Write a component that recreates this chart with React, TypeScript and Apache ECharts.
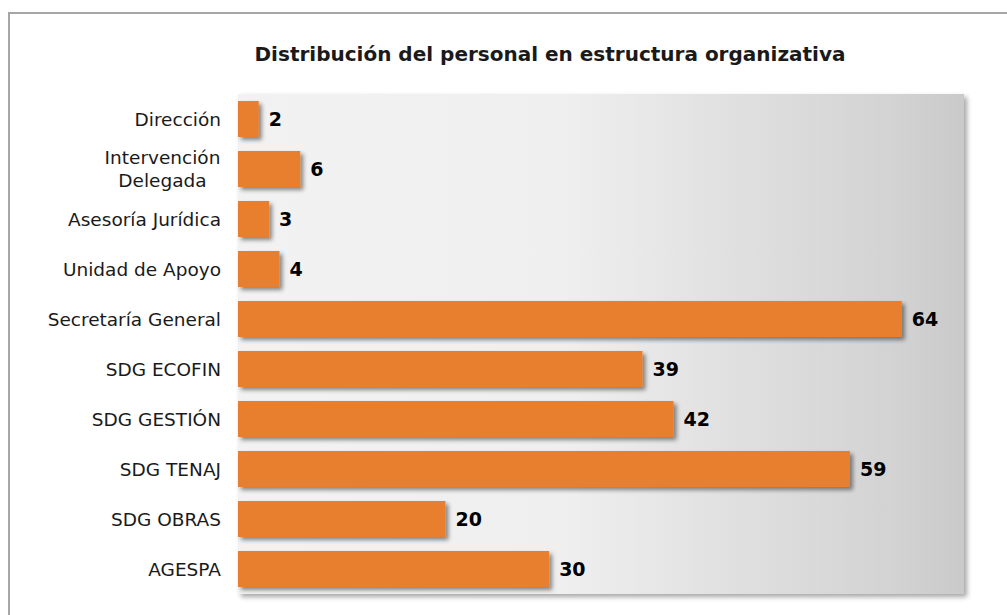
import React, { useEffect, useRef } from "react";
import * as echarts from "echarts";

const categories = [
  "Dirección",
  "Intervención\nDelegada",
  "Asesoría Jurídica",
  "Unidad de Apoyo",
  "Secretaría General",
  "SDG ECOFIN",
  "SDG GESTIÓN",
  "SDG TENAJ",
  "SDG OBRAS",
  "AGESPA",
];
const values = [2, 6, 3, 4, 64, 39, 42, 59, 20, 30];
const titleText = "Distribución del personal en estructura organizativa";
const FONT = "'DejaVu Sans', Verdana, sans-serif";

export default function App() {
  const ref = useRef<HTMLDivElement>(null);
  useEffect(() => {
    const chart = echarts.init(ref.current!, null, { renderer: "svg" });
    chart.setOption({
      animation: false,
      backgroundColor: "#ffffff",
      title: {
        text: titleText,
        left: 545,
        top: 39,
        textAlign: "center",
        textStyle: { fontFamily: FONT, fontSize: 20, fontWeight: "bold", color: "#1a1a1a" },
      },
      graphic: [
        {
          type: "rect",
          shape: { x: 9, y: 13, width: 1020, height: 640 },
          style: { fill: "none", stroke: "#a6a6a6", lineWidth: 2 },
          silent: true,
          z: -1,
        },
      ],
      grid: {
        left: 238,
        top: 94,
        width: 726,
        height: 500,
        show: true,
        borderWidth: 0,
        borderColor: "transparent",
        backgroundColor: new echarts.graphic.LinearGradient(0, 0, 1, 0, [
          { offset: 0, color: "#f2f2f2" },
          { offset: 0.45, color: "#efefef" },
          { offset: 0.65, color: "#e2e2e2" },
          { offset: 0.9, color: "#d3d3d3" },
          { offset: 1, color: "#cacaca" },
        ]),
        shadowColor: "rgba(0,0,0,0.35)",
        shadowBlur: 5,
        shadowOffsetX: 3,
        shadowOffsetY: 3,
      },
      xAxis: {
        type: "value",
        min: 0,
        max: 70,
        show: false,
        splitLine: { show: false },
      },
      yAxis: {
        type: "category",
        data: categories,
        inverse: true,
        axisLine: { show: false },
        axisTick: { show: false },
        axisLabel: {
          margin: 17,
          color: "#1a1a1a",
          fontFamily: FONT,
          fontSize: 18.5,
          lineHeight: 23,
          formatter: (v: string) =>
            v.includes("\n")
              ? v
                  .split("\n")
                  .map((s) => "{c|" + s + "}")
                  .join("\n")
              : v,
          rich: {
            c: {
              width: 117,
              align: "center",
              fontFamily: FONT,
              fontSize: 18.5,
              lineHeight: 23,
              color: "#1a1a1a",
            },
          },
        },
      },
      series: [
        {
          type: "bar",
          data: values,
          barCategoryGap: "28%",
          itemStyle: {
            color: "#e77f2d",
            shadowColor: "rgba(0,0,0,0.45)",
            shadowBlur: 4,
            shadowOffsetX: 3,
            shadowOffsetY: 3,
          },
          label: {
            show: true,
            position: "right",
            distance: 10,
            color: "#000000",
            fontFamily: FONT,
            fontSize: 19,
            fontWeight: "bold",
          },
        },
      ],
    });
    return () => chart.dispose();
  }, []);
  return (
    <div
      ref={ref}
      style={{ position: "absolute", left: 0, top: 0, width: 1007, height: 615 }}
    />
  );
}
